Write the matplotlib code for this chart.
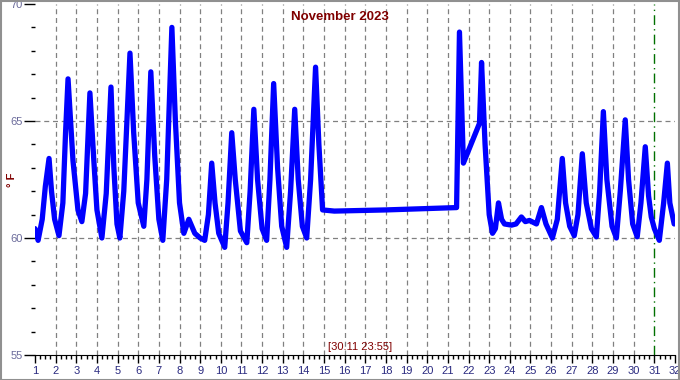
import matplotlib
matplotlib.use('Agg')
import matplotlib.pyplot as plt
from matplotlib.patches import Rectangle
from matplotlib.ticker import MultipleLocator

plt.rcParams['font.family'] = ['Liberation Sans', 'DejaVu Sans']

# ==============================
# Data (day of month, deg F)
# ==============================
days = [1.0, 1.15, 1.35, 1.5, 1.68, 1.8, 1.95, 2.16,
        2.35, 2.48, 2.6, 2.84, 3.08, 3.27,
        3.45, 3.66, 3.85, 4.0, 4.24,
        4.45, 4.68, 4.82, 4.97, 5.11,
        5.3, 5.6, 5.78, 6.0, 6.27,
        6.42, 6.61, 6.8, 7.0, 7.19,
        7.38, 7.63, 7.8, 8.0, 8.21, 8.45, 8.74, 9.0, 9.22,
        9.4, 9.56, 9.72, 9.9, 10.19,
        10.35, 10.53, 10.7, 10.95, 11.26,
        11.42, 11.6, 11.78, 12.0, 12.22,
        12.38, 12.56, 12.75, 12.95, 13.19,
        13.38, 13.58, 13.75, 13.95, 14.16,
        14.35, 14.59, 14.75, 14.93,
        15.5, 18.0, 21.42,
        21.56, 21.75, 22.53, 22.63, 22.8, 23.0, 23.16, 23.3, 23.45, 23.6,
        23.74, 24.08, 24.3, 24.56, 24.75, 24.95, 25.29, 25.53, 25.75, 26.06,
        26.3, 26.54, 26.7, 26.9, 27.12,
        27.3, 27.51, 27.7, 27.95, 28.19,
        28.35, 28.53, 28.7, 28.95, 29.16,
        29.35, 29.59, 29.75, 29.95, 30.17,
        30.35, 30.56, 30.72, 30.85,
        31.0, 31.24, 31.45, 31.63, 31.75, 31.96]

temps = [60.4, 59.9, 60.8, 62.2, 63.4, 62.0, 60.8, 60.1,
         61.5, 64.5, 66.8, 63.3, 61.2, 60.7,
         61.9, 66.2, 63.3, 61.2, 60.0,
         61.9, 66.45, 63.0, 60.6, 60.0,
         62.0, 67.9, 64.5, 61.5, 60.5,
         62.5, 67.1, 63.5, 60.8, 59.9,
         62.5, 69.0, 65.0, 61.5, 60.2, 60.8, 60.2, 60.0, 59.9,
         61.0, 63.2, 61.5, 60.2, 59.6,
         61.5, 64.5, 62.5, 60.3, 59.8,
         62.0, 65.5, 62.5, 60.4, 59.9,
         62.5, 66.6, 63.0, 60.5, 59.6,
         62.0, 65.5, 62.5, 60.5, 60.0,
         62.5, 67.3, 64.0, 61.2,
         61.15, 61.2, 61.3,
         68.8, 63.2, 64.9, 67.5, 64.0, 61.0, 60.2, 60.4, 61.5, 60.8,
         60.6, 60.55, 60.6, 60.9, 60.7, 60.75, 60.6, 61.3, 60.6, 60.0,
         60.8, 63.4, 61.5, 60.5, 60.1,
         61.0, 63.6, 61.5, 60.4, 60.05,
         62.0, 65.4, 62.5, 60.5, 60.0,
         62.0, 65.05, 62.5, 60.6, 60.05,
         61.5, 63.9, 61.8, 60.9,
         60.4, 59.9, 61.5, 63.2, 61.5, 60.6]

x_ticks = list(range(1, 33))
y_ticks = [55, 60, 65, 70]
marker_day = 31
title_text = 'November 2023'
stamp_text = '[30.11 23:55]'

DARK_RED = '#800000'
NAVY = '#2a2a80'

# ==============================
# Figure
# ==============================
fig = plt.figure(figsize=(6.8, 3.8), dpi=100)
ax = fig.add_axes([35 / 680, 25 / 380, 640 / 680, 351 / 380])

ax.plot(days, temps, color='#0000ff', linewidth=3.8, solid_joinstyle='round',
        solid_capstyle='round', zorder=3)

ax.set_xlim(1, 32)
ax.set_ylim(55, 70)

ax.xaxis.set_minor_locator(MultipleLocator(0.25))
ax.yaxis.set_minor_locator(MultipleLocator(1))
ax.set_xticks(x_ticks)
ax.set_yticks(y_ticks)

ax.tick_params(axis='x', which='major', direction='out', length=6, width=1,
               labelsize=8, labelcolor=NAVY, pad=2)
ax.tick_params(axis='x', which='minor', direction='out', length=3, width=1)
ax.tick_params(axis='y', which='major', direction='out', length=8, width=1,
               labelsize=8, labelcolor='#6b6b9b', pad=1)
ax.tick_params(axis='y', which='minor', direction='out', length=3, width=1)

for side in ['left', 'top', 'right']:
    ax.spines[side].set_visible(False)
ax.spines['bottom'].set_color('black')

# dashed grid
for d in x_ticks[1:-1]:
    if d == marker_day:
        continue
    ax.axvline(d, color='#808080', linestyle=(0, (4, 3)), linewidth=0.9, zorder=1)
for t in [60, 65]:
    ax.axhline(t, color='#808080', linestyle=(0, (4, 3)), linewidth=0.9, zorder=1)

ax.axvline(marker_day, color='#007000', linestyle=(0, (7, 3, 1, 3)), linewidth=1, zorder=2)

fig.text(12 / 680, 1 - 180 / 380, '° F', rotation=90, ha='center', va='center',
         color=DARK_RED, fontsize=8, fontweight='bold')
ax.text((340 - 35) / 640, 0.962, title_text, transform=ax.transAxes, ha='center',
        va='center', color=DARK_RED, fontsize=9.5, fontweight='bold')
ax.text((360 - 35) / 640, 0.022, stamp_text, transform=ax.transAxes, ha='center',
        va='center', color=DARK_RED, fontsize=8)

# outer frame
fig.patches.append(Rectangle((0.001, 0.001), 0.997, 0.996, transform=fig.transFigure,
                             fill=False, edgecolor='#909090', linewidth=1.5))

fig.savefig('out.png', dpi=100)
